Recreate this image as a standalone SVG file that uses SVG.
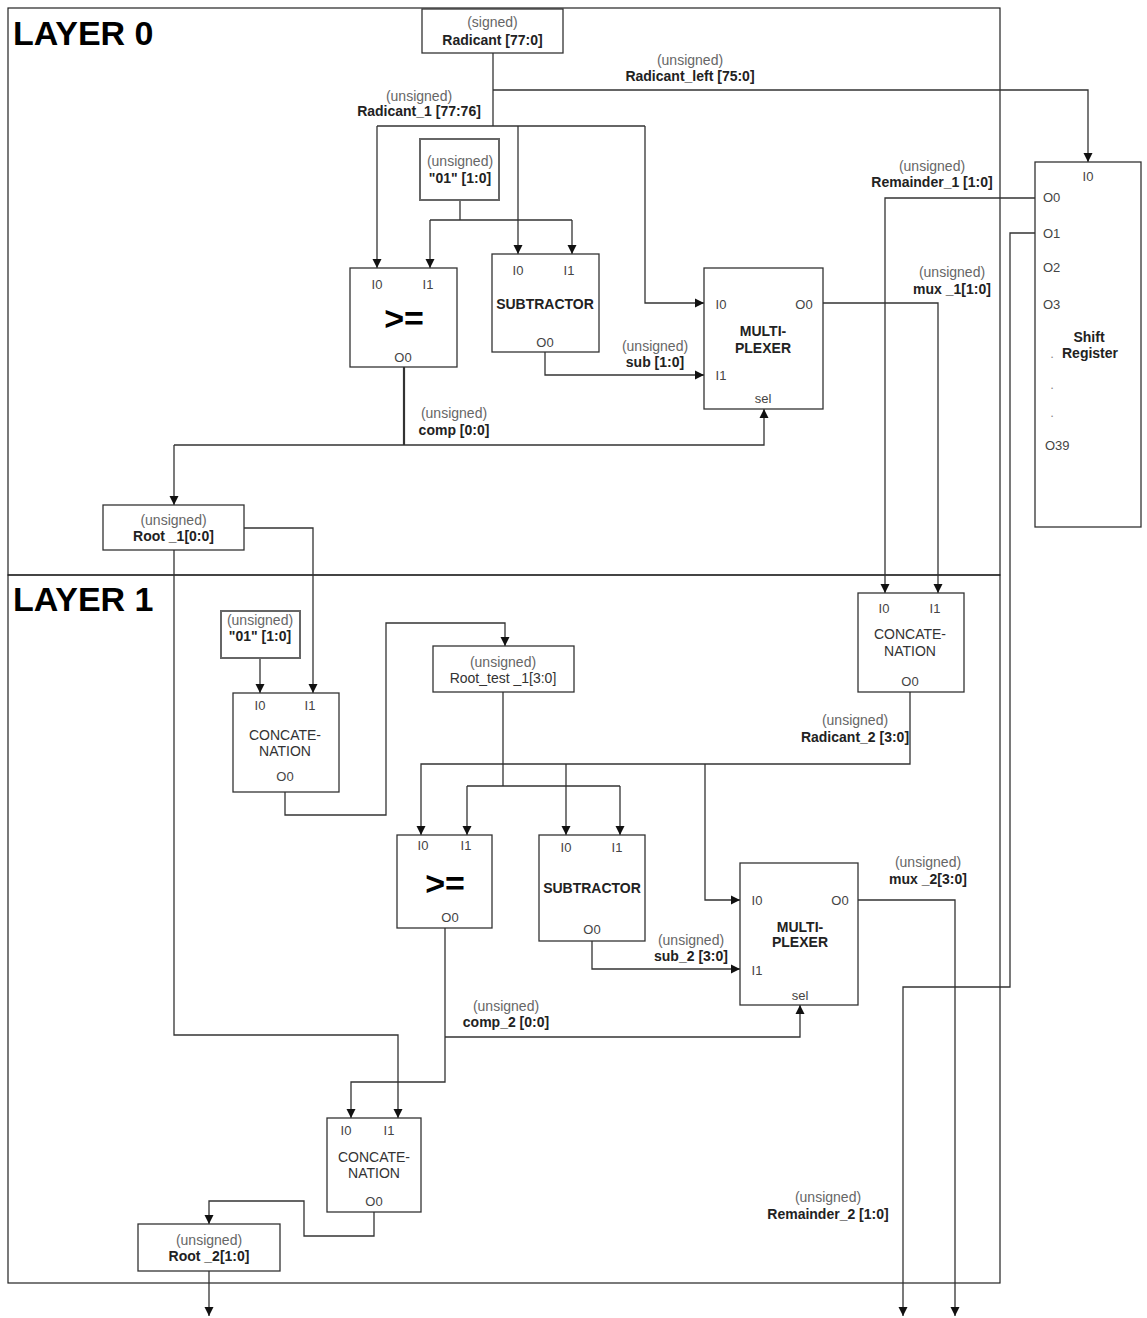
<svg xmlns="http://www.w3.org/2000/svg" width="1147" height="1318" viewBox="0 0 1147 1318">
<style>
.frame{fill:none;stroke:#222;stroke-width:1.2}
.box{fill:#fff;stroke:#333;stroke-width:1.3}
.cbox{fill:#fff;stroke:#666;stroke-width:2}
.w{fill:none;stroke:#333;stroke-width:1.3}
.wa{fill:none;stroke:#333;stroke-width:1.3;marker-end:url(#ah)}
.t{font-family:"Liberation Sans",Arial,sans-serif;font-size:14px;text-anchor:middle}
.ty{fill:#666}
.nm{fill:#222;font-weight:bold}
.pt{fill:#444;font-size:13px}
.lbl{fill:#333}
.big{font-family:"Liberation Sans",Arial,sans-serif;font-size:34px;font-weight:bold;fill:#000}
.ge{font-size:34px;font-weight:bold;fill:#000}
</style>
<defs>
<marker id="ah" markerUnits="userSpaceOnUse" markerWidth="10" markerHeight="10" refX="9" refY="5" orient="auto">
<path d="M0,0.5 L9,5 L0,9.5 z" fill="#111"/>
</marker>
</defs>
<g id="layers">
<rect class="frame" x="8" y="8" width="992" height="567"/>
<rect class="frame" x="8" y="575" width="992" height="708"/>
<text class="big" x="13" y="45">LAYER 0</text>
<text class="big" x="13" y="611">LAYER 1</text>
</g>
<g id="connectors">
<path class="w" d="M493,53 V126"/>
<path class="wa" d="M493,90 H1088 V162"/>
<path class="w" d="M377,126 H645"/>
<path class="wa" d="M377,126 V268"/>
<path class="wa" d="M518,126 V254"/>
<path class="wa" d="M645,126 V303 H704"/>
<path class="w" d="M460,200 V220 M430,220 H572"/>
<path class="wa" d="M430,220 V268"/>
<path class="wa" d="M572,220 V254"/>
<path class="wa" d="M545,352 V375 H704"/>
<path class="w" style="stroke-width:2.2" d="M404,367 V445"/>
<path class="wa" d="M174,445 H764 V409"/>
<path class="wa" d="M174,445 V505"/>
<path class="wa" d="M244,528 H313 V693"/>
<path class="wa" d="M174,550 V1035 H398 V1118"/>
<path class="wa" d="M823,303 H938 V593"/>
<path class="wa" d="M1035,198 H885 V593"/>
<path class="wa" d="M1035,233 H1010 V987 H903 V1316"/>
<path class="wa" d="M260,658 V693"/>
<path class="wa" d="M285,792 V815 H386 V623 H505 V646"/>
<path class="w" d="M503,692 V786 M467,786 H620"/>
<path class="wa" d="M467,786 V835"/>
<path class="wa" d="M620,786 V835"/>
<path class="wa" d="M910,692 V764 H421 V835"/>
<path class="wa" d="M566,764 V835"/>
<path class="wa" d="M705,764 V900 H740"/>
<path class="wa" d="M592,941 V969 H740"/>
<path class="wa" d="M445,928 V1082 H351 V1118"/>
<path class="wa" d="M445,1037 H800 V1005"/>
<path class="wa" d="M858,900 H955 V1316"/>
<path class="wa" d="M374,1212 V1236 H304 V1201 H209 V1224"/>
<path class="wa" d="M209,1271 V1316"/>
<g id="edge-labels" class="t">
<text class="ty" x="690" y="65">(unsigned)</text><text class="nm" x="690" y="81">Radicant_left [75:0]</text>
<text class="ty" x="419" y="101">(unsigned)</text><text class="nm" x="419" y="116">Radicant_1 [77:76]</text>
<text class="ty" x="932" y="171">(unsigned)</text><text class="nm" x="932" y="187">Remainder_1 [1:0]</text>
<text class="ty" x="952" y="277">(unsigned)</text><text class="nm" x="952" y="294">mux _1[1:0]</text>
<text class="ty" x="655" y="351">(unsigned)</text><text class="nm" x="655" y="367">sub [1:0]</text>
<text class="ty" x="454" y="418">(unsigned)</text><text class="nm" x="454" y="435">comp [0:0]</text>
<text class="ty" x="855" y="725">(unsigned)</text><text class="nm" x="855" y="742">Radicant_2 [3:0]</text>
<text class="ty" x="928" y="867">(unsigned)</text><text class="nm" x="928" y="884">mux _2[3:0]</text>
<text class="ty" x="691" y="945">(unsigned)</text><text class="nm" x="691" y="961">sub_2 [3:0]</text>
<text class="ty" x="506" y="1011">(unsigned)</text><text class="nm" x="506" y="1027">comp_2 [0:0]</text>
<text class="ty" x="828" y="1202">(unsigned)</text><text class="nm" x="828" y="1219">Remainder_2 [1:0]</text>
</g>
</g>
<g id="radicant" class="t">
<rect class="box" x="422" y="9" width="141" height="44"/>
<text class="ty" x="492.5" y="27">(signed)</text><text class="nm" x="492.5" y="45">Radicant [77:0]</text>
</g>
<g id="const01_a" class="t">
<rect class="cbox" x="420" y="139" width="79" height="61"/>
<text class="ty" x="460" y="166">(unsigned)</text><text class="nm" x="460" y="183">"01" [1:0]</text>
</g>
<g id="ge_a" class="t">
<rect class="box" x="350" y="268" width="107" height="99"/>
<text class="pt" x="377" y="289">I0</text><text class="pt" x="428" y="289">I1</text>
<text class="ge" x="404" y="330">&gt;=</text>
<text class="pt" x="403" y="362">O0</text>
</g>
<g id="sub_a" class="t">
<rect class="box" x="492" y="254" width="107" height="98"/>
<text class="pt" x="518" y="275">I0</text><text class="pt" x="569" y="275">I1</text>
<text class="nm" x="545" y="309">SUBTRACTOR</text>
<text class="pt" x="545" y="347">O0</text>
</g>
<g id="mux_a" class="t">
<rect class="box" x="704" y="268" width="119" height="141"/>
<text class="pt" x="721" y="309">I0</text><text class="pt" x="804" y="309">O0</text>
<text class="nm" x="763" y="336">MULTI-</text><text class="nm" x="763" y="353">PLEXER</text>
<text class="pt" x="721" y="380">I1</text>
<text class="pt" x="763" y="403">sel</text>
</g>
<g id="root_1" class="t">
<rect class="box" x="103" y="505" width="141" height="45"/>
<text class="ty" x="173.5" y="525">(unsigned)</text><text class="nm" x="173.5" y="541">Root _1[0:0]</text>
</g>
<g id="shift_register" class="t">
<rect class="box" x="1035" y="162" width="106" height="365"/>
<text class="pt" x="1088" y="181">I0</text>
<text class="pt" x="1043" y="202" style="text-anchor:start">O0</text>
<text class="pt" x="1043" y="238" style="text-anchor:start">O1</text>
<text class="pt" x="1043" y="272" style="text-anchor:start">O2</text>
<text class="pt" x="1043" y="309" style="text-anchor:start">O3</text>
<text class="nm" x="1089" y="342">Shift</text>
<text class="nm" x="1090" y="358">Register</text>
<text class="pt" x="1052" y="358" style="fill:#888">.</text>
<text class="pt" x="1052" y="389" style="fill:#888">.</text>
<text class="pt" x="1052" y="417" style="fill:#888">.</text>
<text class="pt" x="1045" y="450" style="text-anchor:start">O39</text>
</g>
<g id="const01_b" class="t">
<rect class="cbox" x="221" y="611" width="79" height="47"/>
<text class="ty" x="260" y="625">(unsigned)</text><text class="nm" x="260" y="641">"01" [1:0]</text>
</g>
<g id="concat_a" class="t">
<rect class="box" x="233" y="693" width="106" height="99"/>
<text class="pt" x="260" y="710">I0</text><text class="pt" x="310" y="710">I1</text>
<text class="lbl" x="285" y="740">CONCATE-</text><text class="lbl" x="285" y="756">NATION</text>
<text class="pt" x="285" y="781">O0</text>
</g>
<g id="root_test_1" class="t">
<rect class="box" x="433" y="646" width="141" height="46"/>
<text class="ty" x="503" y="667">(unsigned)</text><text class="lbl" x="503" y="683">Root_test _1[3:0]</text>
</g>
<g id="concat_b" class="t">
<rect class="box" x="858" y="593" width="106" height="99"/>
<text class="pt" x="884" y="613">I0</text><text class="pt" x="935" y="613">I1</text>
<text class="lbl" x="910" y="639">CONCATE-</text><text class="lbl" x="910" y="656">NATION</text>
<text class="pt" x="910" y="686">O0</text>
</g>
<g id="ge_b" class="t">
<rect class="box" x="397" y="835" width="95" height="93"/>
<text class="pt" x="423" y="850">I0</text><text class="pt" x="466" y="850">I1</text>
<text class="ge" x="445" y="895">&gt;=</text>
<text class="pt" x="450" y="922">O0</text>
</g>
<g id="sub_b" class="t">
<rect class="box" x="539" y="835" width="106" height="106"/>
<text class="pt" x="566" y="852">I0</text><text class="pt" x="617" y="852">I1</text>
<text class="nm" x="592" y="893">SUBTRACTOR</text>
<text class="pt" x="592" y="934">O0</text>
</g>
<g id="mux_b" class="t">
<rect class="box" x="740" y="863" width="118" height="142"/>
<text class="pt" x="757" y="905">I0</text><text class="pt" x="840" y="905">O0</text>
<text class="nm" x="800" y="932">MULTI-</text><text class="nm" x="800" y="947">PLEXER</text>
<text class="pt" x="757" y="975">I1</text>
<text class="pt" x="800" y="1000">sel</text>
</g>
<g id="concat_c" class="t">
<rect class="box" x="327" y="1118" width="94" height="94"/>
<text class="pt" x="346" y="1135">I0</text><text class="pt" x="389" y="1135">I1</text>
<text class="lbl" x="374" y="1162">CONCATE-</text><text class="lbl" x="374" y="1178">NATION</text>
<text class="pt" x="374" y="1206">O0</text>
</g>
<g id="root_2" class="t">
<rect class="box" x="138" y="1224" width="142" height="47"/>
<text class="ty" x="209" y="1245">(unsigned)</text><text class="nm" x="209" y="1261">Root _2[1:0]</text>
</g>
</svg>
